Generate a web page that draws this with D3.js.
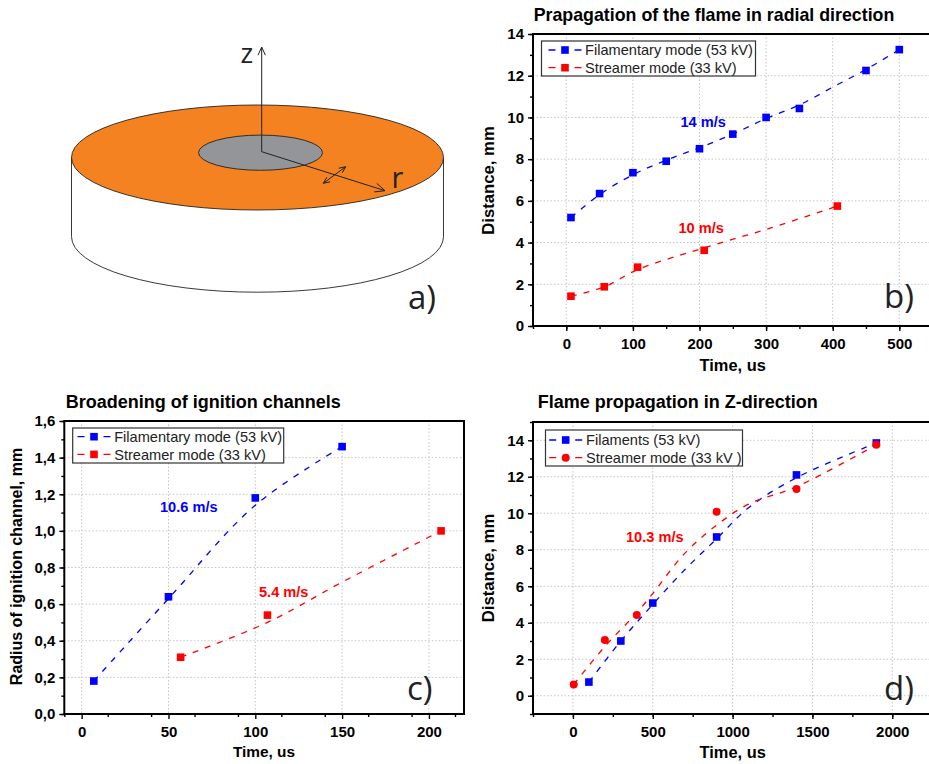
<!DOCTYPE html>
<html><head><meta charset="utf-8">
<script src="https://cdn.jsdelivr.net/npm/d3@7"></script>
<style>html,body{margin:0;background:#fff}svg{display:block}text{font-family:"Liberation Sans",Arial,sans-serif}</style>
</head><body><svg id="c" width="929" height="764"></svg>
<script>
const BLUE="#0000ff",RED="#ff0000";
// panel b
const bBlueT=[7,50,100,150,200,250,300,350,450,500];
const bBlueD=[5.2,6.35,7.35,7.9,8.5,9.2,10,10.43,12.25,13.25];
const bBlueFitT=[7,50,100,150,200,250,300,350,400,450,500];
const bBlueFitD=[5.2,6.3,7.25,7.95,8.55,9.2,9.95,10.6,11.45,12.3,13.25];
const bRedT=[7,57,107,207,407];
const bRedD=[1.43,1.88,2.82,3.63,5.75];
const bRedFitT=[7,57,107,207,307,407];
const bRedFitD=[1.43,1.88,2.7,3.75,4.7,5.75];
const bXTicks=[0,100,200,300,400,500];
const bYTicks=[0,2,4,6,8,10,12,14];
// panel c
const cBlueT=[7,50,100,150];
const cBlueR=[0.18,0.64,1.18,1.46];
const cBlueFitT=[7,50,100,150];
const cBlueFitR=[0.18,0.63,1.14,1.46];
const cRedT=[57,107,207];
const cRedR=[0.31,0.54,1.0];
const cRedFitT=[57,107,150,207];
const cRedFitR=[0.31,0.5,0.72,1.0];
const cXTicks=[0,50,100,150,200];
const cYTicks=[0,0.2,0.4,0.6,0.8,1.0,1.2,1.4,1.6];
// panel d
const dBlueT=[100,300,500,900,1400,1900];
const dBlueD=[0.75,3.0,5.08,8.7,12.1,13.85];
const dBlueFitT=[100,300,500,700,900,1100,1400,1900];
const dBlueFitD=[0.75,3.0,5.0,6.9,8.6,10.3,11.95,13.85];
const dRedT=[5,200,400,900,1400,1900];
const dRedD=[0.62,3.05,4.43,10.08,11.33,13.75];
const dRedFitT=[5,200,400,500,700,900,1100,1400,1900];
const dRedFitD=[0.62,2.7,4.55,5.6,7.8,9.35,10.5,11.45,13.75];
const dXTicks=[0,500,1000,1500,2000];
const dYTicks=[0,2,4,6,8,10,12,14];

const svg=d3.select("#c");
function zip(a,b){return a.map((v,i)=>[v,b[i]]);}

function panel(o){
  const x=d3.scaleLinear().domain(o.xDom).range([o.l,o.r]);
  const y=d3.scaleLinear().domain(o.yDom).range([o.b,o.t]);
  const g=svg.append("g");
  g.append("g").selectAll("line").data(o.xTicks).join("line")
    .attr("x1",d=>x(d)).attr("x2",d=>x(d)).attr("y1",o.t).attr("y2",o.b)
    .attr("stroke","#c4c4c4").attr("stroke-width",1).attr("stroke-dasharray","1.5,2");
  g.append("g").selectAll("line").data(o.yTicks).join("line")
    .attr("x1",o.l).attr("x2",o.r).attr("y1",d=>y(d)).attr("y2",d=>y(d))
    .attr("stroke","#c4c4c4").attr("stroke-width",1).attr("stroke-dasharray","1.5,2");
  const line=d3.line().x(d=>x(d[0])).y(d=>y(d[1])).curve(d3.curveCatmullRom.alpha(.5));
  o.series.forEach(s=>{
    g.append("path").attr("d",line(s.fit)).attr("fill","none").attr("stroke",s.color)
      .attr("stroke-width",1.3).attr("stroke-dasharray","6,7");
  });
  const minorX=d3.range(o.xDom[0],o.xDom[1]+1e-9,o.xMinor);
  const minorY=d3.range(o.yDom[0],o.yDom[1]+1e-9,o.yMinor);
  g.append("g").attr("transform",`translate(0,${o.b})`)
    .call(d3.axisBottom(x).tickValues(minorX).tickSize(3).tickFormat(""));
  g.append("g").attr("transform",`translate(${o.l},0)`)
    .call(d3.axisLeft(y).tickValues(minorY).tickSize(3).tickFormat(""));
  const ax=g.append("g").attr("transform",`translate(0,${o.b})`)
    .call(d3.axisBottom(x).tickValues(o.xTicks).tickSize(5).tickPadding(7).tickFormat(d=>d));
  const ay=g.append("g").attr("transform",`translate(${o.l},0)`)
    .call(d3.axisLeft(y).tickValues(o.yTicks).tickSize(5).tickPadding(4).tickFormat(o.yFmt||(d=>d)));
  [ax,ay].forEach(a=>{
    a.selectAll("text").attr("fill","#000").style("font-size","15px").style("font-weight","bold")
     .style("font-family",'"Liberation Sans",Arial,sans-serif');
  });
  g.selectAll(".domain").remove();
  g.selectAll(".tick line").attr("stroke","#000").attr("stroke-width",1.4);
  g.append("rect").attr("x",o.l).attr("y",o.t).attr("width",o.r-o.l).attr("height",o.b-o.t)
    .attr("fill","none").attr("stroke","#000").attr("stroke-width",2);
  o.series.forEach(s=>{
    const m=g.append("g").attr("fill",s.color);
    if(s.circle) m.selectAll("circle").data(s.pts).join("circle")
      .attr("cx",d=>x(d[0])).attr("cy",d=>y(d[1])).attr("r",4);
    else m.selectAll("rect").data(s.pts).join("rect")
      .attr("x",d=>x(d[0])-3.8).attr("y",d=>y(d[1])-3.8).attr("width",7.6).attr("height",7.6);
  });
  const L=o.legend;
  g.append("rect").attr("x",L.x).attr("y",L.y).attr("width",L.w).attr("height",L.h)
    .attr("fill","#fff").attr("stroke","#333").attr("stroke-width",1.2);
  L.items.forEach((it,i)=>{
    const cy=L.y+L.row+i*17.7, cx=L.x+L.mx;
    g.append("line").attr("x1",cx-16.5).attr("x2",cx+16.5).attr("y1",cy).attr("y2",cy)
      .attr("stroke",it.color).attr("stroke-width",1.3).attr("stroke-dasharray",it.dash);
    if(it.circle) g.append("circle").attr("cx",cx).attr("cy",cy).attr("r",4).attr("fill",it.color);
    else g.append("rect").attr("x",cx-3.8).attr("y",cy-3.8).attr("width",7.6).attr("height",7.6).attr("fill",it.color);
    g.append("text").attr("x",L.x+L.tx).attr("y",cy+5.3).attr("font-size",14.6).attr("fill","#222").text(it.label);
  });
  o.notes.forEach(n=>g.append("text").attr("x",n[0]).attr("y",n[1]).attr("fill",n[3])
    .attr("font-weight","bold").attr("font-size",14.6).text(n[2]));
  g.append("text").attr("x",o.title[0]).attr("y",o.title[1]).attr("font-weight","bold")
    .attr("font-size",o.titleSize).attr("fill","#000").text(o.title[2]);
  g.append("text").attr("x",o.xLab[0]).attr("y",o.xLab[1]).attr("text-anchor","middle")
    .attr("font-weight","bold").attr("font-size",o.xLab[2]).text("Time, us");
  g.append("text").attr("transform",`translate(${o.yLab[0]},${o.yLab[1]}) rotate(-90)`)
    .attr("text-anchor","middle").attr("font-weight","bold").attr("font-size",o.yLab[3]).text(o.yLab[2]);
  g.append("text").attr("x",o.letter[0]).attr("y",o.letter[1])
    .style("font-family",'"Open Sans",sans-serif').attr("font-size",33)
    .attr("fill","#222").text(o.letter[2]);
}

const legMode="Filamentary mode (53 kV)", legStr="Streamer mode (33 kV)";
const legDash="7,19,7";

panel({l:533,r:933,t:34,b:326,xDom:[-50,550.6],yDom:[0,14],xTicks:bXTicks,yTicks:bYTicks,xMinor:50,yMinor:1,
  series:[{color:BLUE,pts:zip(bBlueT,bBlueD),fit:zip(bBlueFitT,bBlueFitD)},{color:RED,pts:zip(bRedT,bRedD),fit:zip(bRedFitT,bRedFitD)}],
  legend:{x:541.5,y:41,w:214,h:35,tx:43.5,mx:23.5,row:9,items:[{label:legMode,color:BLUE,dash:legDash},{label:legStr,color:RED,dash:legDash}]},
  notes:[[680.5,126.5,"14 m/s",BLUE],[678.5,233,"10 m/s",RED]],
  title:[533.7,20.5,"Prapagation of the flame in radial direction"],titleSize:17.8,
  xLab:[732.7,371,16.4],yLab:[494,180.5,"Distance, mm",16.7],letter:[884,308,"b)"]});

panel({l:64.3,r:464,t:421,b:714,xDom:[-10,220.2],yDom:[0,1.6],xTicks:cXTicks,yTicks:cYTicks,xMinor:25,yMinor:0.1,
  yFmt:d=>d.toFixed(1).replace(".",","),
  series:[{color:BLUE,pts:zip(cBlueT,cBlueR),fit:zip(cBlueFitT,cBlueFitR)},{color:RED,pts:zip(cRedT,cRedR),fit:zip(cRedFitT,cRedFitR)}],
  legend:{x:72.7,y:428,w:211,h:35,tx:41.5,mx:21.3,row:8.7,items:[{label:legMode,color:BLUE,dash:legDash},{label:legStr,color:RED,dash:legDash}]},
  notes:[[160,511.5,"10.6 m/s",BLUE],[259,596.5,"5.4 m/s",RED]],
  title:[65.7,408.3,"Broadening of ignition channels"],titleSize:18,
  xLab:[264,756.5,15.4],yLab:[22,566.5,"Radius of ignition channel, mm",16],letter:[407,700,"c)"]});

panel({l:533,r:933,t:422,b:714,xDom:[-250,2255],yDom:[-1,15],xTicks:dXTicks,yTicks:dYTicks,xMinor:250,yMinor:1,
  series:[{color:BLUE,pts:zip(dBlueT,dBlueD),fit:zip(dBlueFitT,dBlueFitD)},{color:RED,circle:true,pts:zip(dRedT,dRedD),fit:zip(dRedFitT,dRedFitD)}],
  legend:{x:545.5,y:430,w:197,h:36,tx:40.5,mx:20.2,row:10,items:[{label:"Filaments (53 kV)",color:BLUE,dash:legDash},{label:"Streamer mode (33 kV )",color:RED,dash:legDash,circle:true}]},
  notes:[[626,541.5,"10.3 m/s",RED]],
  title:[537.7,408.3,"Flame propagation in Z-direction"],titleSize:18,
  xLab:[732.7,758,16.4],yLab:[494,568,"Distance, mm",16.7],letter:[884,700,"d)"]});

// panel a: schematic
const diskCentre=[257.5,157.5], diskRadii=[186,52.5], coreCentre=[260.5,152.7], coreRadii=[62,17.6];
const a=svg.append("g");
const wallBottom=236.7, wallBulge=55.5;
a.append("path").attr("d",`M${diskCentre[0]-diskRadii[0]},${diskCentre[1]}V${wallBottom}A${diskRadii[0]},${wallBulge} 0 0 0 ${diskCentre[0]+diskRadii[0]},${wallBottom}V${diskCentre[1]}`)
  .attr("fill","#fff").attr("stroke","#222").attr("stroke-width",.9);
a.append("ellipse").attr("cx",diskCentre[0]).attr("cy",diskCentre[1]).attr("rx",diskRadii[0]).attr("ry",diskRadii[1])
  .attr("fill","#f58220").attr("stroke","#222").attr("stroke-width",.9);
a.append("ellipse").attr("cx",coreCentre[0]).attr("cy",coreCentre[1]).attr("rx",coreRadii[0]).attr("ry",coreRadii[1])
  .attr("fill","#939598").attr("stroke","#222").attr("stroke-width",.9);
function arrow(x1,y1,x2,y2,both,len){
  a.append("line").attr("x1",x1).attr("y1",y1).attr("x2",x2).attr("y2",y2).attr("stroke","#222").attr("stroke-width",1);
  const head=(px,py,qx,qy)=>{
    const t=Math.atan2(py-qy,px-qx),w=.42;
    a.append("path").attr("d",`M${px-len*Math.cos(t-w)},${py-len*Math.sin(t-w)}L${px},${py}L${px-len*Math.cos(t+w)},${py-len*Math.sin(t+w)}`)
      .attr("fill","none").attr("stroke","#222").attr("stroke-width",1);
  };
  head(x2,y2,x1,y1); if(both) head(x1,y1,x2,y2);
}
arrow(261.7,151.7,261.7,47,false,9);
arrow(261.7,151.7,385,190.7,false,11);
arrow(323.3,183.3,345.7,166.7,true,7);
const schemaFont='"Open Sans",sans-serif';
[["z",240.5,63,27],["r",391.5,187.5,29],["a)",408,309,33]].forEach(t=>{
  a.append("text").attr("x",t[1]).attr("y",t[2]).style("font-family",schemaFont).attr("font-size",t[3]).attr("fill","#222").text(t[0]);
});
</script></body></html>
